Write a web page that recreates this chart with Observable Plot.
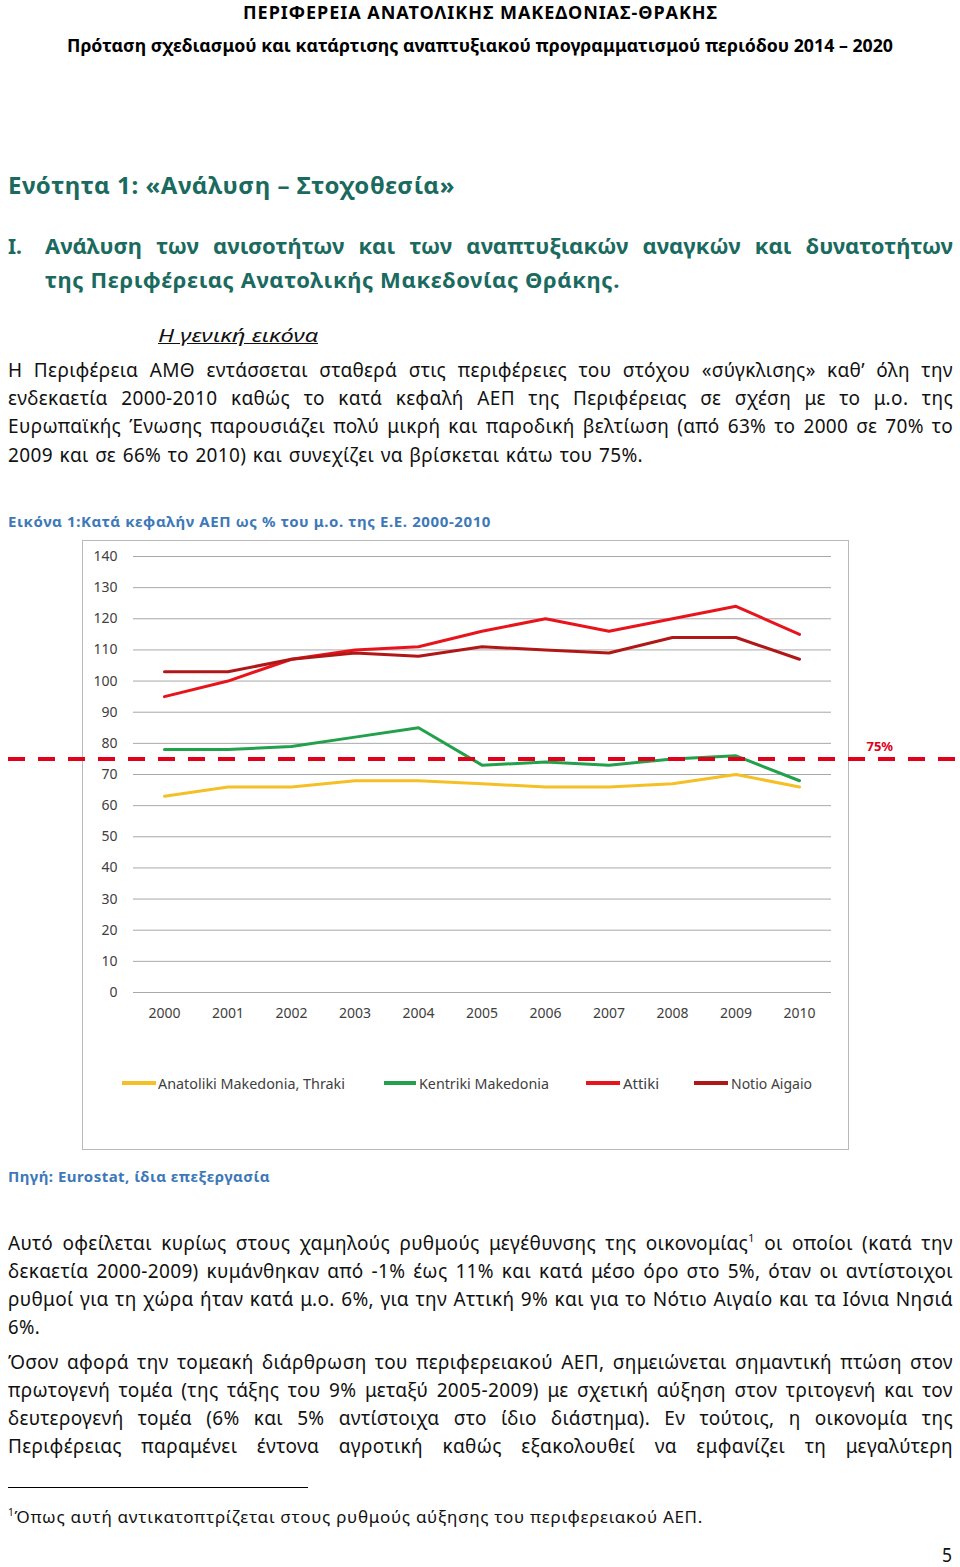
<!DOCTYPE html>
<html>
<head>
<meta charset="utf-8">
<script src="https://cdn.jsdelivr.net/npm/d3@7"></script>
<script src="https://cdn.jsdelivr.net/npm/@observablehq/plot@0.6"></script>
<style>
  html, body { margin: 0; padding: 0; background: #fff; }
  #page { position: relative; width: 960px; height: 1567px; overflow: hidden; font-family: "Noto Sans", "Open Sans", sans-serif; color: #111; }
  .ln { position: absolute; line-height: 28px; white-space: nowrap; }
  .ln > span { display: inline-block; transform-origin: 0 50%; }
  .hd { font-size: 18px; font-weight: bold; color: #000; }
  .teal { color: #1b6a60; font-weight: bold; }
  .blue { color: #3d79b8; font-weight: bold; font-size: 15px; }
  .p { font-size: 19px; }
  .p > span { letter-spacing: 0.35px; }
  sup { font-size: 0.6em; line-height: 0; vertical-align: 0.7em; }
  #frame { position: absolute; left: 82px; top: 540px; width: 765px; height: 608px; border: 1.5px solid #b9b9b9; }
  #chart { position: absolute; left: 0; top: 540px; }
  #chart svg { overflow: visible; }
  .lg { position: absolute; font-size: 15px; color: #404040; line-height: 28px; white-space: nowrap; }
  .sw { position: absolute; height: 4px; }
</style>
</head>
<body>
<div id="page">
  <div class="ln hd" style="left:243px;top:-2px" data-w="475"><span>ΠΕΡΙΦΕΡΕΙΑ ΑΝΑΤΟΛΙΚΗΣ ΜΑΚΕΔΟΝΙΑΣ-ΘΡΑΚΗΣ</span></div>
  <div class="ln hd" style="left:67px;top:31px" data-w="826"><span>Πρόταση σχεδιασμού και κατάρτισης αναπτυξιακού προγραμματισμού περιόδου 2014 – 2020</span></div>

  <div class="ln teal" style="left:8px;top:171px;font-size:24px" data-w="447"><span>Ενότητα 1: «Ανάλυση – Στοχοθεσία»</span></div>

  <div class="ln teal" style="left:8px;top:231px;font-size:22px" data-w="14"><span>I.</span></div>
  <div class="ln teal" style="left:45px;top:231px;font-size:22px" data-w="908" data-j="1"><span>Ανάλυση των ανισοτήτων και των αναπτυξιακών αναγκών και δυνατοτήτων</span></div>
  <div class="ln teal" style="left:45px;top:265px;font-size:22px" data-w="575"><span>της Περιφέρειας Ανατολικής Μακεδονίας Θράκης.</span></div>

  <div class="ln p" style="left:158px;top:321px" data-w="160"><span style="font-style:italic;text-decoration:underline;letter-spacing:0">Η γενική εικόνα</span></div>

  <div class="ln p" style="left:8px;top:356px" data-w="945" data-j="1"><span>Η Περιφέρεια ΑΜΘ εντάσσεται σταθερά στις περιφέρειες του στόχου «σύγκλισης» καθ’ όλη την</span></div>
  <div class="ln p" style="left:8px;top:384px" data-w="945" data-j="1"><span>ενδεκαετία 2000-2010 καθώς το κατά κεφαλή ΑΕΠ της Περιφέρειας σε σχέση με το μ.ο. της</span></div>
  <div class="ln p" style="left:8px;top:412px" data-w="945" data-j="1"><span>Ευρωπαϊκής Ένωσης παρουσιάζει πολύ μικρή και παροδική βελτίωση (από 63% το 2000 σε 70% το</span></div>
  <div class="ln p" style="left:8px;top:441px" data-w="635" data-j="1"><span>2009 και σε 66% το 2010) και συνεχίζει να βρίσκεται κάτω του 75%.</span></div>

  <div class="ln blue" style="left:8px;top:507px" data-w="483"><span>Εικόνα 1:Κατά κεφαλήν ΑΕΠ ως % του μ.ο. της Ε.Ε. 2000-2010</span></div>

  <div id="frame"></div>
  <div id="chart"></div>
  <div id="legend"></div>

  <div class="ln blue" style="left:8px;top:1162px" data-w="262"><span>Πηγή: Eurostat, ίδια επεξεργασία</span></div>

  <div class="ln p" style="left:8px;top:1229px" data-w="945" data-j="1"><span>Αυτό οφείλεται κυρίως στους χαμηλούς ρυθμούς μεγέθυνσης της οικονομίας<sup>1</sup> οι οποίοι (κατά την</span></div>
  <div class="ln p" style="left:8px;top:1257px" data-w="945" data-j="1"><span>δεκαετία 2000-2009) κυμάνθηκαν από -1% έως 11% και κατά μέσο όρο στο 5%, όταν οι αντίστοιχοι</span></div>
  <div class="ln p" style="left:8px;top:1285px" data-w="945" data-j="1"><span>ρυθμοί για τη χώρα ήταν κατά μ.ο. 6%, για την Αττική 9% και για το Νότιο Αιγαίο και τα Ιόνια Νησιά</span></div>
  <div class="ln p" style="left:8px;top:1313px" data-w="32"><span>6%.</span></div>

  <div class="ln p" style="left:8px;top:1348px" data-w="945" data-j="1"><span>Όσον αφορά την τομεακή διάρθρωση του περιφερειακού ΑΕΠ, σημειώνεται σημαντική πτώση στον</span></div>
  <div class="ln p" style="left:8px;top:1376px" data-w="945" data-j="1"><span>πρωτογενή τομέα (της τάξης του 9% μεταξύ 2005-2009) με σχετική αύξηση στον τριτογενή και τον</span></div>
  <div class="ln p" style="left:8px;top:1404px" data-w="945" data-j="1"><span>δευτερογενή τομέα (6% και 5% αντίστοιχα στο ίδιο διάστημα). Εν τούτοις, η οικονομία της</span></div>
  <div class="ln p" style="left:8px;top:1432px" data-w="945" data-j="1"><span>Περιφέρειας παραμένει έντονα αγροτική καθώς εξακολουθεί να εμφανίζει τη μεγαλύτερη</span></div>

  <div style="position:absolute;left:8px;top:1487px;width:300px;height:1px;background:#000"></div>
  <div class="ln" style="left:8px;top:1503px;font-size:17px" data-w="695"><span><sup>1</sup>Όπως αυτή αντικατοπτρίζεται στους ρυθμούς αύξησης του περιφερειακού ΑΕΠ.</span></div>

  <div class="ln" style="left:942px;top:1545px;font-size:19px;line-height:20px" data-w="10"><span>5</span></div>
</div>

<script>
// ---- Chart data ----
const years = [2000, 2001, 2002, 2003, 2004, 2005, 2006, 2007, 2008, 2009, 2010];
const anatolikiMakedoniaThraki = [63, 66, 66, 68, 68, 67, 66, 66, 67, 70, 66];
const kentrikiMakedonia = [78, 78, 79, 82, 85, 73, 74, 73, 75, 76, 68];
const attiki = [95, 100, 107, 110, 111, 116, 120, 116, 120, 124, 115];
const notioAigaio = [103, 103, 107, 109, 108, 111, 110, 109, 114, 114, 107];
const seriesNames = ["Anatoliki Makedonia, Thraki", "Kentriki Makedonia", "Attiki", "Notio Aigaio"];
const seriesColors = ["#f4c025", "#22a04b", "#e8141c", "#b01818"];
const yTicks = [0, 10, 20, 30, 40, 50, 60, 70, 80, 90, 100, 110, 120, 130, 140];
const threshold = [75];
const thresholdLabel = ["75%"];

const seriesValues = [anatolikiMakedoniaThraki, kentrikiMakedonia, attiki, notioAigaio];
const rows = seriesNames.flatMap((name, i) =>
  years.map((yr, j) => ({series: name, year: yr, value: seriesValues[i][j]})));

const chart = Plot.plot({
  width: 960,
  height: 610,
  marginLeft: 133,
  marginRight: 129,
  marginTop: 16,
  marginBottom: 158,
  x: {domain: [2000, 2010], range: [164, 799], label: null},
  y: {domain: [0, 140], label: null},
  color: {domain: seriesNames, range: seriesColors},
  style: {fontFamily: "'Noto Sans', sans-serif", fontSize: "14px", color: "#404040", background: "transparent", overflow: "visible"},
  marks: [
    Plot.ruleY(yTicks, {stroke: "#a8a8a8", strokeWidth: 1}),
    Plot.axisY({ticks: yTicks, tickSize: 0, tickPadding: 16, label: null, fontSize: 14}),
    Plot.axisX({ticks: years, tickSize: 0, tickPadding: 16, tickFormat: d => String(d), label: null, fontSize: 14}),
    Plot.line(rows, {x: "year", y: "value", z: "series", stroke: "series", strokeWidth: 3, strokeLinejoin: "round"}),
    Plot.ruleY(threshold, {stroke: "#e3001b", strokeWidth: 4, strokeDasharray: "17,13", insetLeft: -125, insetRight: -124}),
    Plot.text(threshold, {y: d => d, frameAnchor: "right", text: (d, i) => thresholdLabel[i], dx: 35, dy: -12, textAnchor: "start", fill: "#e3001b", fontSize: 13, fontWeight: "bold"})
  ]
});
document.getElementById("chart").appendChild(chart);

// ---- Legend (inside the chart frame, HTML) ----
const legendLayout = [
  {sw: [122, 156], tx: 158, w: 187},
  {sw: [384, 416], tx: 419, w: 130},
  {sw: [586, 620], tx: 623, w: 36},
  {sw: [694, 728], tx: 731, w: 81}
];
const legend = document.getElementById("legend");
seriesNames.forEach((name, i) => {
  const L = legendLayout[i];
  const sw = document.createElement("div");
  sw.className = "sw";
  sw.style.left = L.sw[0] + "px";
  sw.style.width = (L.sw[1] - L.sw[0]) + "px";
  sw.style.top = "1081px";
  sw.style.background = seriesColors[i];
  legend.appendChild(sw);
  const t = document.createElement("div");
  t.className = "lg ln";
  t.style.left = L.tx + "px";
  t.style.top = "1069px";
  t.dataset.w = L.w;
  const s = document.createElement("span");
  s.textContent = name;
  t.appendChild(s);
  legend.appendChild(t);
});

// ---- Fit text lines to the reference widths ----
document.querySelectorAll(".ln").forEach(el => {
  const T = +el.dataset.w;
  const span = el.firstElementChild;
  if (!T || !span) return;
  const w = span.getBoundingClientRect().width;
  if (w <= 0) return;
  if (w < T) {
    if (el.dataset.j) {
      const n = (span.textContent.match(/ /g) || []).length;
      if (n) { span.style.wordSpacing = ((T - w) / n) + "px"; return; }
    }
    const chars = span.textContent.length;
    const base = parseFloat(getComputedStyle(span).letterSpacing) || 0;
    if (chars > 1 && (T - w) / chars < 1.2) {
      span.style.letterSpacing = (base + (T - w) / chars) + "px";
    } else {
      span.style.transform = `scaleX(${T / w})`;
    }
  } else {
    span.style.transform = `scaleX(${T / w})`;
  }
});
</script>
</body>
</html>
